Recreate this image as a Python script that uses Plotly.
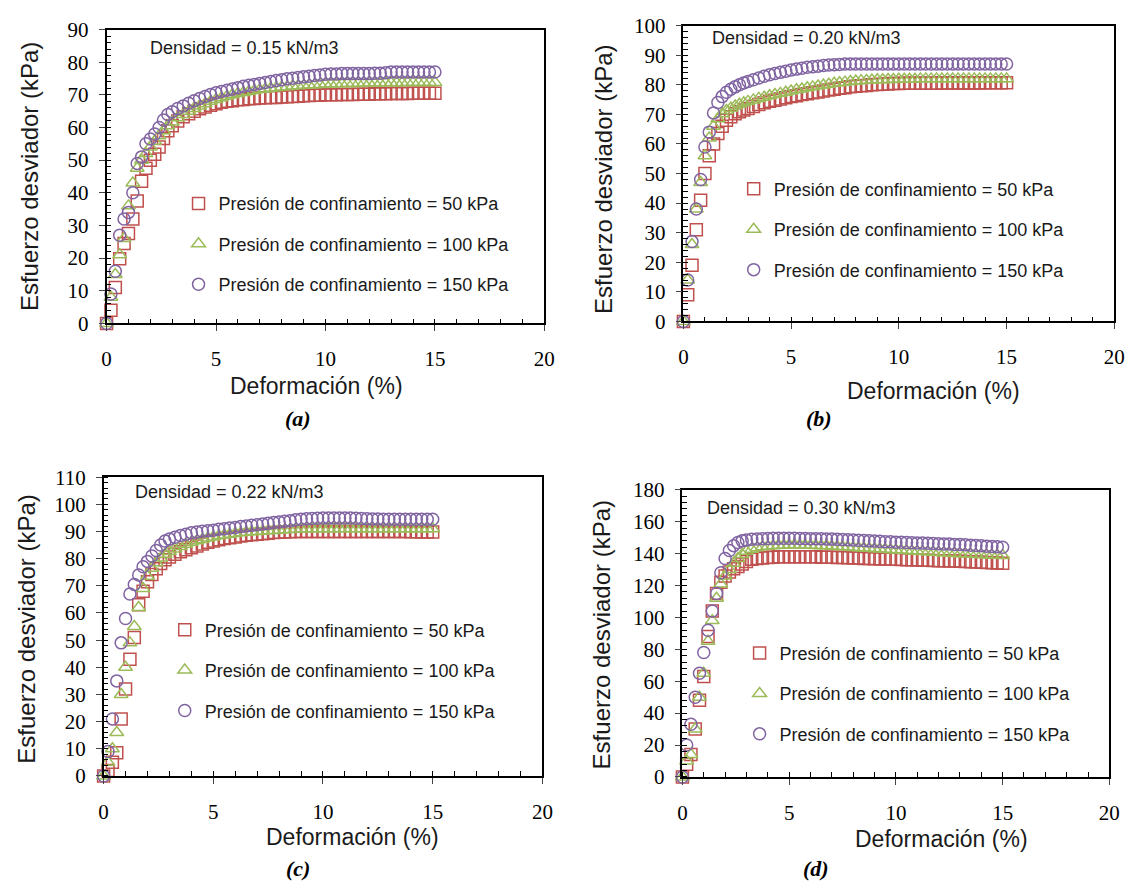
import plotly.graph_objects as go

W, H = 1146, 895

# ---------------- data ----------------
STRAIN = [0, 0.2, 0.4, 0.6, 0.8, 1.0, 1.2, 1.4,
          1.6, 1.8, 2.0, 2.2, 2.4, 2.6, 2.8, 3.0,
          3.25, 3.5, 3.75, 4.0, 4.25, 4.5, 4.75, 5.0,
          5.25, 5.5, 5.75, 6.0, 6.25, 6.5, 6.75, 7.0,
          7.25, 7.5, 7.75, 8.0, 8.25, 8.5, 8.75, 9.0,
          9.25, 9.5, 9.75, 10.0, 10.25, 10.5, 10.75, 11.0,
          11.25, 11.5, 11.75, 12.0, 12.25, 12.5, 12.75, 13.0,
          13.25, 13.5, 13.75, 14.0, 14.25, 14.5, 14.75, 15.0]

A_50 = [0, 4, 11, 19.8, 24.5, 27.5, 32, 37.5,
        43.5, 47.5, 50, 51.8, 54, 56.6, 59, 60.5,
        62, 63.3, 64.2, 65, 65.7, 66.3, 66.8, 67.3,
        67.7, 68, 68.2, 68.5, 68.6, 68.8, 68.9, 69,
        69.1, 69.2, 69.2, 69.3, 69.4, 69.5, 69.6, 69.7,
        69.8, 69.9, 69.9, 70, 70, 70, 70.1, 70.1,
        70.1, 70.2, 70.2, 70.2, 70.3, 70.3, 70.3, 70.4,
        70.4, 70.4, 70.4, 70.5, 70.5, 70.5, 70.5, 70.5]
A_100 = [0, 8, 15, 21, 26, 36, 43, 47.5,
         50, 52, 54, 55.8, 57.5, 59, 60.5, 61.7,
         63, 64, 65, 65.8, 66.6, 67.3, 68, 68.6,
         69.1, 69.6, 70, 70.4, 70.7, 71, 71.3, 71.6,
         71.8, 72, 72.2, 72.4, 72.5, 72.7, 72.8, 72.9,
         73, 73.1, 73.2, 73.3, 73.3, 73.4, 73.4, 73.5,
         73.5, 73.5, 73.6, 73.6, 73.6, 73.6, 73.7, 73.7,
         73.7, 73.7, 73.8, 73.8, 73.8, 73.8, 73.8, 73.8]
A_150 = [0, 9, 16, 27, 32, 34, 40, 49,
         51, 55, 56.5, 58, 60, 62.3, 64, 64.8,
         65.8, 66.6, 67.4, 68.2, 68.9, 69.5, 70.1, 70.6,
         71, 71.4, 71.8, 72.2, 72.6, 72.9, 73.2, 73.5,
         73.8, 74.1, 74.4, 74.6, 74.9, 75.1, 75.3, 75.5,
         75.7, 75.9, 76.1, 76.3, 76.4, 76.4, 76.5, 76.5,
         76.5, 76.5, 76.5, 76.5, 76.6, 76.6, 76.8, 77,
         77, 77, 77, 77, 77, 77, 77, 77]

B_50 = [0, 9, 19, 31, 41, 50, 56, 60,
        63.5, 66, 68, 69.2, 70.2, 70.9, 71.5, 72,
        72.7, 73.3, 73.9, 74.4, 74.8, 75.2, 75.6, 76,
        76.3, 76.7, 77, 77.3, 77.6, 77.9, 78.2, 78.5,
        78.8, 79, 79.3, 79.5, 79.7, 79.8, 80, 80.1,
        80.2, 80.3, 80.4, 80.4, 80.5, 80.5, 80.5, 80.5,
        80.5, 80.5, 80.5, 80.6, 80.6, 80.6, 80.6, 80.6,
        80.6, 80.6, 80.6, 80.7, 80.7, 80.7, 80.7, 80.7]
B_100 = [0, 14, 26, 38, 47, 56, 62, 66,
         68.5, 70.2, 71.3, 72.1, 72.8, 73.4, 73.9, 74.4,
         74.9, 75.4, 75.8, 76.3, 76.7, 77.1, 77.5, 77.9,
         78.3, 78.6, 79, 79.3, 79.6, 79.9, 80.2, 80.5,
         80.7, 80.9, 81.1, 81.3, 81.4, 81.5, 81.6, 81.7,
         81.7, 81.8, 81.8, 81.9, 81.9, 81.9, 81.9, 82,
         82, 82, 82, 82, 82, 82, 82, 82,
         82, 82, 82, 82, 82, 82, 82, 82]
B_150 = [0, 14, 27, 38, 48, 59, 64, 70.5,
         74, 76, 77.5, 78.5, 79.3, 80, 80.6, 81.1,
         81.7, 82.3, 82.9, 83.4, 83.8, 84.2, 84.6, 85,
         85.3, 85.6, 85.9, 86.1, 86.3, 86.5, 86.7, 86.8,
         86.9, 87, 87, 87, 87, 87, 87, 87,
         87, 87, 87, 87, 87, 87, 87, 87,
         87, 87, 87, 87, 87, 87, 87, 87,
         87, 87, 87, 87, 87, 87, 87, 87]

C_50 = [0, 2, 5, 8.5, 21, 32, 43, 51,
        63, 68, 71.5, 74.2, 76.3, 78.2, 79.6, 80.6,
        81.6, 82.5, 83.3, 84, 84.7, 85.4, 86, 86.5,
        87, 87.4, 87.7, 88, 88.3, 88.6, 88.8, 89,
        89.2, 89.4, 89.6, 89.7, 89.8, 89.9, 90, 90,
        90, 90, 90, 90, 90, 90, 90, 90,
        90, 90, 90, 90, 90, 90, 90, 90,
        90, 90, 90, 89.9, 89.9, 89.8, 89.8, 89.8]
C_100 = [0, 5, 10, 16, 30, 40, 49, 55,
         62, 69, 73.5, 76.5, 78.5, 80.2, 81.6, 82.6,
         83.6, 84.5, 85.3, 86, 86.6, 87.1, 87.6, 88,
         88.4, 88.7, 89, 89.3, 89.5, 89.7, 89.9, 90,
         90.1, 90.3, 90.4, 90.5, 90.6, 90.7, 90.8, 90.9,
         90.9, 91, 91, 91, 91, 91, 91, 91,
         91, 91, 91, 91, 91, 91, 91, 91,
         91, 91, 91, 91, 91, 91, 91, 91]
C_150 = [0, 9, 21, 35, 49, 58, 67, 70.5,
         74, 77, 79, 81, 83, 85, 86.5, 87.2,
         87.9, 88.5, 89, 89.5, 89.8, 90.1, 90.3, 90.5,
         90.8, 91, 91.3, 91.5, 91.8, 92, 92.3, 92.5,
         92.8, 93, 93.3, 93.5, 93.8, 94, 94.3, 94.5,
         94.7, 94.8, 94.9, 95, 95, 95, 95, 95,
         95, 94.9, 94.8, 94.7, 94.6, 94.6, 94.5, 94.5,
         94.5, 94.5, 94.5, 94.5, 94.5, 94.5, 94.5, 94.5]

D_50 = [0, 8, 14, 30, 48, 63, 88, 104,
        115, 122, 126, 128.5, 130.5, 132, 133.5, 135,
        136.5, 137, 137.3, 137.5, 137.7, 138, 138, 138,
        138, 138, 138, 138, 138, 137.8, 137.8, 137.7,
        137.6, 137.5, 137.4, 137.3, 137.2, 137, 136.9, 136.8,
        136.7, 136.6, 136.5, 136.4, 136.3, 136.2, 136.1, 136,
        135.9, 135.8, 135.7, 135.6, 135.5, 135.4, 135.3, 135.2,
        135, 134.9, 134.8, 134.6, 134.5, 134.3, 134.2, 134]
D_100 = [0, 10, 14, 30, 50, 65, 85, 98,
         112, 121, 126, 130, 134, 137, 139.5, 141.5,
         142.8, 143.7, 144.3, 144.7, 145, 145.2, 145.3, 145.4,
         145.4, 145.4, 145.3, 145.2, 145.1, 145, 144.9, 144.7,
         144.5, 144.3, 144.1, 143.9, 143.7, 143.5, 143.3, 143.1,
         142.9, 142.7, 142.5, 142.3, 142.1, 141.9, 141.7, 141.5,
         141.3, 141.1, 140.9, 140.7, 140.5, 140.3, 140.1, 140,
         139.8, 139.7, 139.5, 139.4, 139.2, 139.1, 139, 138.8]
D_150 = [0, 20, 33, 50, 65, 78, 92, 104,
         115, 128, 137, 142, 145, 147, 148, 148.5,
         149, 149.2, 149.4, 149.5, 149.6, 149.6, 149.6, 149.6,
         149.6, 149.5, 149.5, 149.4, 149.4, 149.3, 149.2, 149.1,
         149, 148.8, 148.7, 148.5, 148.4, 148.2, 148, 147.9,
         147.7, 147.5, 147.4, 147.2, 147.1, 147, 146.8, 146.7,
         146.6, 146.5, 146.4, 146.2, 146.1, 146, 145.8, 145.7,
         145.5, 145.3, 145.1, 144.9, 144.7, 144.5, 144.3, 144]

SERIES_NAMES = ["Presión de confinamiento = 50 kPa",
                "Presión de confinamiento = 100 kPa",
                "Presión de confinamiento = 150 kPa"]
PANEL_LABELS = ["(a)", "(b)", "(c)", "(d)"]
DENSITIES = ["Densidad = 0.15 kN/m3", "Densidad = 0.20 kN/m3",
             "Densidad = 0.22 kN/m3", "Densidad = 0.30 kN/m3"]
Y_MAX = [90, 100, 110, 180]
Y_DTICK = [10, 10, 10, 20]
Y_MINOR = [2, 2, 2, 4]
PANEL_DATA = [[A_50, A_100, A_150], [B_50, B_100, B_150],
              [C_50, C_100, C_150], [D_50, D_100, D_150]]

# ---------------- styling / layout ----------------
COLORS = ["#C0504D", "#9BBB59", "#8064A2"]
SYMBOLS = ["square-open", "triangle-up-open", "circle-open"]
TXT = "#1a1a1a"


def fx(p):
    return p / W


def fy(p):
    return 1 - p / H


# pixel boxes of the four plot areas: left, right, top, bottom
BOXES = [(103, 547, 18, 320), (688, 1125, 14, 318),
         (100, 545, 478, 785), (687, 1120, 491, 786)]
LEGEND_POS = [(197, 192), (760, 177), (183, 630), (766, 654)]
DENS_POS = [(145, 37), (715, 27), (130, 493), (710, 510)]
XTITLE_POS = [(316, 384), (942, 389), (352, 848), (950, 850)]
YTITLE_POS = [(25, 169), (607, 172), (22, 634), (605, 640)]
LABEL_POS = [(297, 418), (826, 418), (297, 880), (822, 880)]

fig = go.Figure()
annotations = []
layout = dict(width=W, height=H, margin=dict(l=0, r=0, t=0, b=0),
              paper_bgcolor="white", plot_bgcolor="white", showlegend=True)

for i in range(4):
    sfx = "" if i == 0 else str(i + 1)
    leg = "legend" + sfx
    for j in range(3):
        fig.add_trace(go.Scatter(
            x=STRAIN, y=PANEL_DATA[i][j], mode="markers",
            name=SERIES_NAMES[j], legend=leg, legendgroup=f"g{i}{j}",
            xaxis="x" + sfx, yaxis="y" + sfx, cliponaxis=False,
            marker=dict(symbol=SYMBOLS[j], size=12, color=COLORS[j],
                        line=dict(width=1.5, color=COLORS[j])),
        ))
    l, r, t, b = BOXES[i]
    tickfont = dict(family="Liberation Serif", size=21, color="black")
    layout["xaxis" + sfx] = dict(
        domain=[fx(l), fx(r)], range=[0, 20], anchor="y" + sfx,
        dtick=5, tick0=0, ticks="outside", ticklen=6, tickwidth=1.2,
        minor=dict(dtick=1, ticks="inside", ticklen=5, tickwidth=1.2, tickcolor="black"),
        showline=True, linecolor="black", linewidth=1.5, mirror=True,
        showgrid=False, zeroline=False, tickfont=tickfont, ticklabelstandoff=10)
    layout["yaxis" + sfx] = dict(
        domain=[fy(b), fy(t)], range=[0, Y_MAX[i]], anchor="x" + sfx,
        dtick=Y_DTICK[i], tick0=0, ticks="outside", ticklen=6, tickwidth=1.2,
        minor=dict(dtick=Y_MINOR[i], ticks="inside", ticklen=5, tickwidth=1.2, tickcolor="black"),
        showline=True, linecolor="black", linewidth=1.5, mirror=True,
        showgrid=False, zeroline=False, tickfont=tickfont, ticklabelstandoff=6)
    mx, my = LEGEND_POS[i]
    layout[leg] = dict(x=fx(mx - 21), y=fy(my - 14), xanchor="left", yanchor="top",
                       bgcolor="rgba(0,0,0,0)", tracegroupgap=14,
                       font=dict(family="Liberation Sans", size=18, color=TXT))
    dx, dy = DENS_POS[i]
    annotations.append(dict(text=DENSITIES[i], x=fx(dx), y=fy(dy), xref="paper", yref="paper",
                            xanchor="left", yanchor="middle", showarrow=False,
                            font=dict(family="Liberation Sans", size=18, color=TXT)))
    tx, ty = XTITLE_POS[i]
    annotations.append(dict(text="Deformación (%)", x=fx(tx), y=fy(ty), xref="paper", yref="paper",
                            xanchor="center", yanchor="middle", showarrow=False,
                            font=dict(family="Liberation Sans", size=23, color=TXT)))
    yx, yy = YTITLE_POS[i]
    annotations.append(dict(text="Esfuerzo desviador (kPa)", x=fx(yx), y=fy(yy), xref="paper",
                            yref="paper", xanchor="center", yanchor="middle", textangle=-90,
                            showarrow=False,
                            font=dict(family="Liberation Sans", size=24, color=TXT)))
    lx, ly = LABEL_POS[i]
    annotations.append(dict(text="<b><i>" + PANEL_LABELS[i] + "</i></b>", x=fx(lx), y=fy(ly),
                            xref="paper", yref="paper", xanchor="center", yanchor="middle",
                            showarrow=False,
                            font=dict(family="Liberation Serif", size=22, color="black")))

layout["annotations"] = annotations
fig.update_layout(**layout)
fig.write_html("out.html", post_script="document.body.style.margin='0';")
